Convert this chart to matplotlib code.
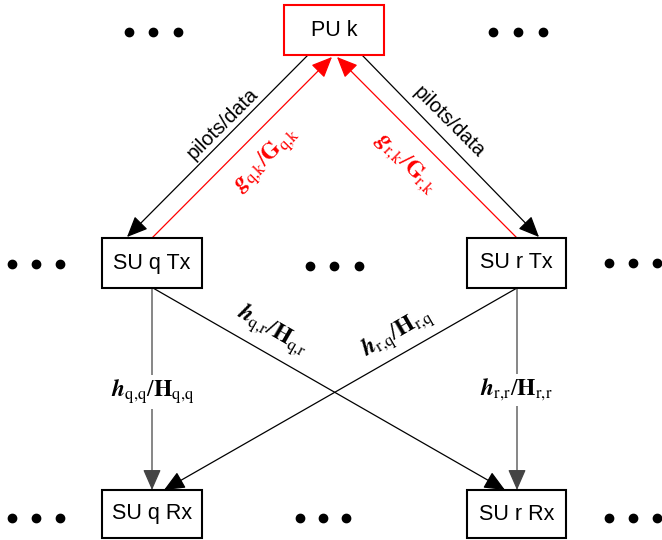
import matplotlib.pyplot as plt
from matplotlib.patches import Rectangle, FancyArrowPatch

plt.rcParams['mathtext.fontset'] = 'stix'

# nodes: name -> (x0, y0, x1, y1) in pixel coords, y down
boxes = {
    'PU k': (284, 5, 384, 55),
    'SU q Tx': (102, 238, 202, 288),
    'SU r Tx': (467, 238, 566, 288),
    'SU q Rx': (102, 490, 202, 538),
    'SU r Rx': (467, 490, 566, 538),
}
box_colors = {'PU k': 'red'}

# dot groups (centre x of each dot, y)
dot_x = [[129, 153, 178], [493, 518, 543],
         [12, 36, 60], [310, 334, 359], [609, 633, 657],
         [12, 36, 60], [300, 323, 346], [609, 633, 657]]
dot_y = [32, 32, 264, 266, 263, 518, 518, 518]

# arrows: (start, end, colour)
arrows = [
    ((308, 55), (127, 237), 'black'),
    ((362, 55), (539, 237), 'black'),
    ((152, 238), (332, 57), 'red'),
    ((517, 238), (337, 57), 'red'),
    ((152, 288), (152, 490), '#444444'),
    ((517, 288), (517, 490), '#444444'),
    ((153, 288), (505, 490), 'black'),
    ((517, 288), (164, 490), 'black'),
]


def chan(sym, sub):
    # bold italic lower case / bold upper case with roman subscript
    return (r'$\mathbfit{%s}_{\mathrm{%s}}/\mathbf{%s}_{\mathrm{%s}}$'
            % (sym, sub, sym.upper(), sub))


# labels: (x, y, text, rotation, colour, size, white bg)
labels = [
    (223, 124, 'pilots/data', 45, 'black', 14.5, False),
    (449, 122, 'pilots/data', -45, 'black', 14.5, False),
    (267, 160, chan('g', 'q{,}k'), 45, 'red', 17, False),
    (405, 164, chan('g', 'r{,}k'), -45, 'red', 17, False),
    (153, 392, chan('h', 'q{,}q'), 0, 'black', 17, True),
    (516, 390, chan('h', 'r{,}r'), 0, 'black', 17, True),
    (272, 331, chan('h', 'q{,}r'), -30, 'black', 17, False),
    (398, 333, chan('h', 'r{,}q'), 30, 'black', 17, False),
]

fig = plt.figure(figsize=(6.62, 5.40), dpi=100)
ax = fig.add_axes([0, 0, 1, 1])
ax.set_xlim(0, 662)
ax.set_ylim(540, 0)
ax.axis('off')

# Arrows
for (x0, y0), (x1, y1), c in arrows:
    ax.add_patch(FancyArrowPatch((x0, y0), (x1, y1),
                                 arrowstyle='-|>,head_length=0.8,head_width=0.35',
                                 mutation_scale=16, color=c, lw=0.9,
                                 shrinkA=0, shrinkB=0, zorder=2))

# Boxes
for name, (x0, y0, x1, y1) in boxes.items():
    ax.add_patch(Rectangle((x0, y0), x1 - x0, y1 - y0, facecolor='white',
                           edgecolor=box_colors.get(name, 'black'), lw=1.5, zorder=3))
    ax.text((x0 + x1) / 2, (y0 + y1) / 2, name, ha='center', va='center',
            fontsize=15.5, family='Liberation Sans', zorder=4)

# Dots
for xs, y in zip(dot_x, dot_y):
    ax.plot(xs, [y] * len(xs), 'o', color='black', ms=6, zorder=4)

# Labels
for x, y, s, rot, c, size, bg in labels:
    kw = {}
    if bg:
        kw['bbox'] = dict(facecolor='white', edgecolor='none', pad=2)
    fam = 'Liberation Sans' if s.startswith('pilots') else None
    ax.text(x, y, s, rotation=rot, color=c, fontsize=size, ha='center', va='center',
            rotation_mode='anchor', family=fam, zorder=5, **kw)

fig.savefig('out.png', dpi=100)
